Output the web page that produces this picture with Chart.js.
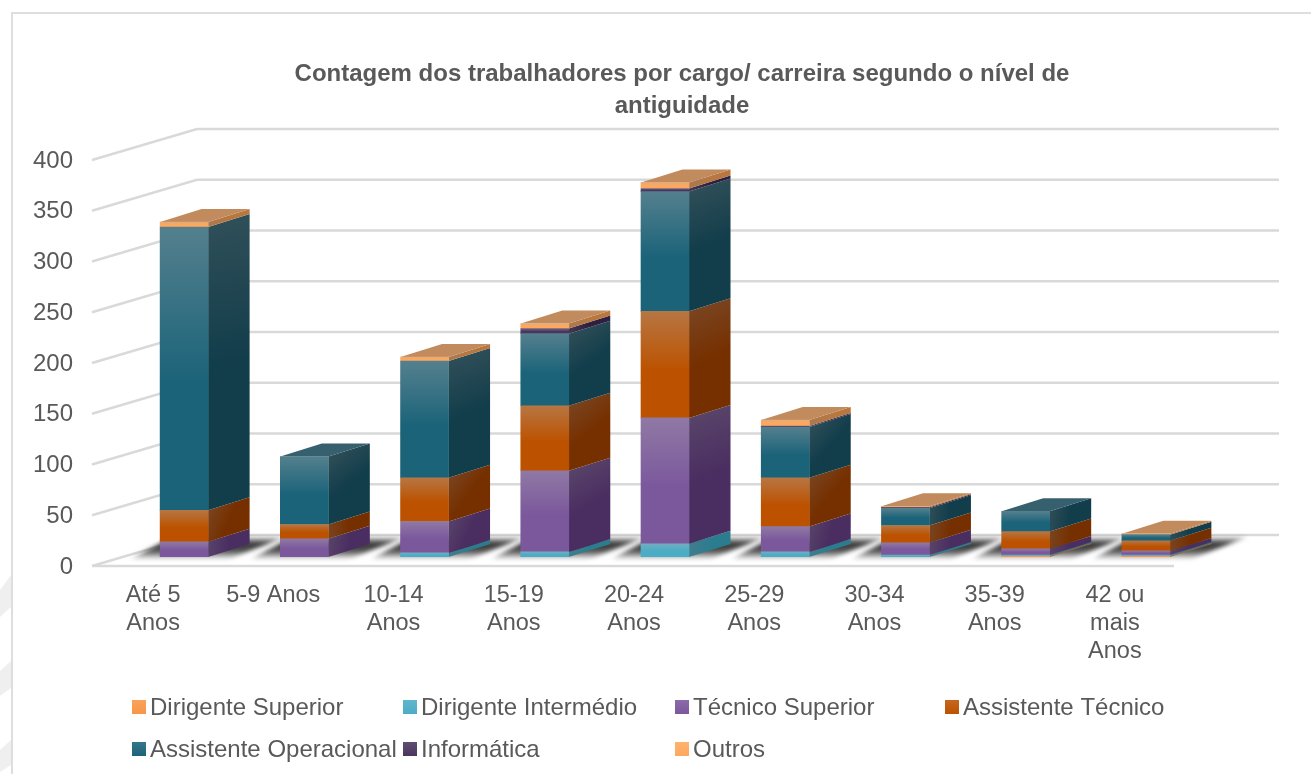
<!DOCTYPE html>
<html><head><meta charset="utf-8">
<style>html,body{margin:0;padding:0;background:#fff;overflow:hidden}#w{position:relative;width:1311px;height:774px}</style>
<script src="https://cdn.jsdelivr.net/npm/chart.js@4"></script>
</head><body><div id="w"><canvas id="c" width="1311" height="774"></canvas></div>
<script>
const chartTitle = ['Contagem dos trabalhadores por cargo/ carreira segundo o nível de','antiguidade'];
const categories = [['Até 5','Anos'],'5-9 Anos',['10-14','Anos'],['15-19','Anos'],['20-24','Anos'],['25-29','Anos'],['30-34','Anos'],['35-39','Anos'],['42 ou','mais','Anos']];
const dirigenteSuperior    = [0,0,0,0,0,0,0,1,1];
const dirigenteIntermedio  = [0,0,4,5,13,5,2,1,1];
const tecnicoSuperior      = [15,18,31,80,124,25,12,6,4];
const assistenteTecnico    = [31,14,43,64,105,48,17,17,10];
const assistenteOperacional= [279,67,115,71,118,50,17,20,6];
const informatica          = [0,0,0,5,3,1,1,0,0];
const outros               = [5,0,4,5,6,6,1,0,1];
const seriesNames = ['Dirigente Superior','Dirigente Intermédio','Técnico Superior','Assistente Técnico','Assistente Operacional','Informática','Outros'];
const seriesValues = [dirigenteSuperior,dirigenteIntermedio,tecnicoSuperior,assistenteTecnico,assistenteOperacional,informatica,outros];
const frontColors = ['#F79646','#4BACC6','#7B579C','#BC5200','#1B6379','#4A3560','#FFA85C'];
const sideColors  = ['#A8642C','#2C7C90','#4A2E61','#763000','#123D4B','#2E1E42','#B8773F'];
const topColors   = ['#C08A5C','#5B9BAD','#6F5A85','#A0683F','#37606F','#4A3A5E','#C18B5D'];
const legendColumns = [132,403,675,945];
const DEPTH_X=41.5, DEPTH_Y=-13, PLANE_X=32, PLANE_Y=-9, WALL_X=105, WALL_Y=-31, GRID='#D9D9D9', TEXT='#595959';

function mix(hex,target,t){
  const p=h=>[1,3,5].map(i=>parseInt(h.substr(i,2),16));
  const a=p(hex),b=p(target);
  return 'rgb('+a.map((v,i)=>Math.round(v+(b[i]-v)*t)).join(',')+')';
}
function frontFill(ctx){
  const c=ctx.chart,di=ctx.datasetIndex,i=ctx.dataIndex;
  if(i===undefined||!c.scales.y) return frontColors[di];
  let s=0; for(let k=0;k<di;k++) s+=seriesValues[k][i];
  const y0=c.scales.y.getPixelForValue(s), y1=c.scales.y.getPixelForValue(s+seriesValues[di][i]);
  if(!isFinite(y0)||!isFinite(y1)) return frontColors[di];
  const g=c.ctx.createLinearGradient(0,y1,0,y0);
  g.addColorStop(0,mix(frontColors[di],'#B0B0B0',0.38));
  g.addColorStop(0.55,frontColors[di]);
  g.addColorStop(1,frontColors[di]);
  return g;
}
function poly(ctx,pts,fill){ctx.beginPath();pts.forEach((p,i)=>i?ctx.lineTo(p[0],p[1]):ctx.moveTo(p[0],p[1]));ctx.closePath();ctx.fillStyle=fill;ctx.fill();}

const stage3d={
  id:'stage3d',
  afterLayout(chart){ chart.titleBlock.left=53; chart.titleBlock.right=1311; },
  beforeDraw(chart){
    const ctx=chart.ctx; ctx.save();
    [[[0,590],[11,575],[11,607],[0,617]],[[0,671],[11,661],[11,688],[0,696]],[[0,750],[11,740],[11,765],[0,772]]].forEach(p=>poly(ctx,p,'#EFEFEF'));
    ctx.strokeStyle='#DEDEDE';ctx.lineWidth=2;ctx.beginPath();ctx.moveTo(12,774);ctx.lineTo(12,13);ctx.lineTo(1311,13);ctx.stroke();
    ctx.restore();
  },
  beforeDatasetsDraw(chart){
    const ctx=chart.ctx,{left,right}=chart.chartArea,ys=chart.scales.y;
    ctx.save();
    ctx.strokeStyle=GRID;ctx.lineWidth=2.4;
    ys.ticks.forEach(t=>{
      const y=ys.getPixelForValue(t.value);
      ctx.beginPath();ctx.moveTo(left,y);ctx.lineTo(left+WALL_X,y+WALL_Y);ctx.lineTo(right+WALL_X,y+WALL_Y);ctx.stroke();
    });
    const y0=ys.getPixelForValue(0);
    ctx.beginPath();ctx.moveTo(left,y0);ctx.lineTo(right,y0);ctx.stroke();
    ctx.restore();
    ctx.save();
    ctx.translate(PLANE_X,PLANE_Y);
    ctx.filter='blur(2px)';
    categories.forEach((_,i)=>{
      const el=chart.getDatasetMeta(0).data[i];
      const x0=el.x-24,x1=el.x+24,b=y0;
      const g=ctx.createLinearGradient(0,b-20,0,b+3);
      g.addColorStop(0,'rgba(90,90,90,0.25)');
      g.addColorStop(0.3,'rgba(50,50,50,1)');
      g.addColorStop(0.62,'rgba(70,70,70,0.9)');
      g.addColorStop(0.88,'rgba(120,120,120,0.4)');
      g.addColorStop(1,'rgba(200,200,200,0)');
      poly(ctx,[[x0-32,b+3],[x1+18,b+3],[x1+78,b-20],[x0+12,b-20]],g);
    });
    ctx.restore();
    ctx.save();
    ctx.translate(PLANE_X,PLANE_Y);
    categories.forEach((_,i)=>{
      let topDs=-1;
      seriesValues.forEach((v,d)=>{if(v[i]>0)topDs=d;});
      seriesValues.forEach((v,d)=>{
        if(!(v[i]>0))return;
        const el=chart.getDatasetMeta(d).data[i],xr=el.x+el.width/2,xl=el.x-el.width/2;
        const g=ctx.createLinearGradient(xr,el.y,xr+DEPTH_X,el.base+DEPTH_Y);
        g.addColorStop(0,mix(sideColors[d],'#808080',0.25));
        g.addColorStop(0.5,sideColors[d]);
        g.addColorStop(1,sideColors[d]);
        poly(ctx,[[xr,el.y],[xr+DEPTH_X,el.y+DEPTH_Y],[xr+DEPTH_X,el.base+DEPTH_Y],[xr,el.base]],g);
        if(d===topDs) poly(ctx,[[xl,el.y],[xl+DEPTH_X,el.y+DEPTH_Y],[xr+DEPTH_X,el.y+DEPTH_Y],[xr,el.y]],topColors[d]);
      });
    });
    ctx.restore();
    ctx.save();
    ctx.translate(PLANE_X,PLANE_Y);
  },
  afterDatasetsDraw(chart){ chart.ctx.restore(); },
  afterDraw(chart){
    const ctx=chart.ctx; ctx.save();
    ctx.font='24px "Liberation Sans"';ctx.textBaseline='middle';ctx.textAlign='left';
    chart.data.datasets.forEach((ds,i)=>{
      const x=legendColumns[i%4],y=707+42*Math.floor(i/4);
      const g=ctx.createLinearGradient(0,y-7,0,y+7);
      g.addColorStop(0,mix(frontColors[i],'#ffffff',0.12));g.addColorStop(1,frontColors[i]);
      ctx.fillStyle=g;ctx.fillRect(x,y-7,14,14);
      ctx.fillStyle=TEXT;ctx.fillText(ds.label,x+18,y+1);
    });
    ctx.restore();
  }
};

new Chart(document.getElementById('c'),{
  type:'bar',
  data:{labels:categories,datasets:seriesNames.map((n,i)=>({label:n,data:seriesValues[i],backgroundColor:frontFill,borderWidth:0,barThickness:48,borderSkipped:false}))},
  plugins:[stage3d],
  options:{
    responsive:false,animation:false,
    layout:{padding:{left:0,right:137,top:0,bottom:0}},
    plugins:{
      legend:{display:false},tooltip:{enabled:false},
      title:{display:true,text:chartTitle,color:TEXT,align:'center',font:{family:'"Liberation Sans"',size:24,weight:'bold',lineHeight:1.333},padding:{top:58,bottom:38}}
    },
    scales:{
      x:{stacked:true,grid:{display:false,drawTicks:false},border:{display:false},
        afterFit(s){s.height=208;},
        ticks:{color:TEXT,font:{family:'"Liberation Sans"',size:23.5,lineHeight:1.2},padding:15,labelOffset:1,maxRotation:0,autoSkip:false}},
      y:{stacked:true,min:0,max:400,grid:{display:false,drawTicks:false},border:{display:false},
        afterFit(s){s.width=92;},
        ticks:{stepSize:50,color:TEXT,font:{family:'"Liberation Sans"',size:24},padding:19,labelOffset:1}}
    }
  }
});
</script></body></html>
